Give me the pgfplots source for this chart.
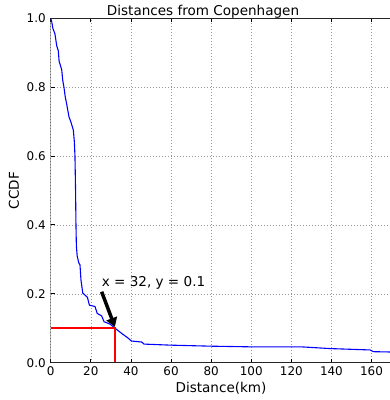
\documentclass[border=0pt]{standalone}
\usepackage{pgfplots}
\pgfplotsset{compat=1.18}
\usepackage{fontspec}
\setmainfont{DejaVu Sans}
\usetikzlibrary{arrows.meta}
\begin{document}
\begin{tikzpicture}[x=1bp,y=1bp]
\useasboundingbox (0,0) rectangle (390,400);
\begin{axis}[
  at={(50.7bp,37.3bp)}, anchor=south west,
  width=339.3bp, height=344.5bp, scale only axis,
  xmin=0, xmax=169.2, ymin=0, ymax=1,
  axis line style={draw=none},
  tick align=inside,
  ytick pos=left,
  major tick length=4bp,
  tick style={black, line width=0.8bp},
  xtick={0,20,40,60,80,100,120,140,160},
  ytick={0,0.2,0.4,0.6,0.8,1},
  yticklabel style={/pgf/number format/fixed, /pgf/number format/fixed zerofill, /pgf/number format/precision=1, xshift=-1.5bp},
  /pgf/number format/assume math mode=true,
  tick label style={font=\fontsize{12}{14}\selectfont},
  grid=major,
  grid style={gray!80, line width=0.6bp, dash pattern=on 1bp off 2bp},
  title={Distances from Copenhagen},
  every axis title/.style={at={(axis description cs:0.449,1)}, anchor=base, yshift=2.8bp, font=\fontsize{13.6}{16}\selectfont},
  xlabel={Distance(km)},
  every axis x label/.style={at={(axis description cs:0.502,-0.0856)}, anchor=base, font=\fontsize{13.6}{16}\selectfont},
  ylabel={CCDF},
  every axis y label/.style={at={(axis description cs:-0.108,0.5)}, anchor=center, rotate=90, font=\fontsize{13.6}{16}\selectfont},
]
\addplot[blue, line width=1.1bp] coordinates {
(0,1.0) (0.5,0.99) (1.1,0.97) (2.1,0.955) (3.0,0.92) (3.8,0.905) (4.2,0.875)
(5.5,0.85) (6.0,0.82) (6.6,0.80) (7.3,0.77) (8,0.75) (9.1,0.714) (10.0,0.70)
(10.8,0.685) (11.3,0.675) (11.8,0.64) (12.1,0.60) (12.4,0.50) (12.6,0.40)
(12.8,0.34) (13.2,0.31) (14.0,0.29) (14.6,0.284) (15.1,0.24) (16,0.202)
(18.3,0.19) (19.3,0.167) (22.1,0.163) (23.2,0.143) (25.4,0.136) (26.6,0.119)
(29.6,0.112) (32.1,0.10) (35.4,0.085) (38.7,0.071) (40.2,0.063) (45.4,0.060)
(46.5,0.054) (59.5,0.051) (79.5,0.048) (100,0.046) (125,0.046) (139.3,0.041)
(159.3,0.037) (160.9,0.032) (170,0.031)
};
\addplot[red, line width=2bp] coordinates {(0,0.1) (32,0.1) (32,0)};
\draw[-{Triangle[width=11bp,length=9bp]}, line width=3.5bp, black] (axis cs:25.4,0.206) -- (axis cs:32,0.104);
\node[anchor=base west, inner sep=0, font=\fontsize{13.6}{16}\selectfont] at (axis cs:25.4,0.22) {x = 32, y = 0.1};
\draw[black!85, line width=1.2bp] (rel axis cs:1.01,1) -- (rel axis cs:0,1) -- (rel axis cs:0,0) -- (rel axis cs:1.01,0);
\end{axis}
\end{tikzpicture}
\end{document}
